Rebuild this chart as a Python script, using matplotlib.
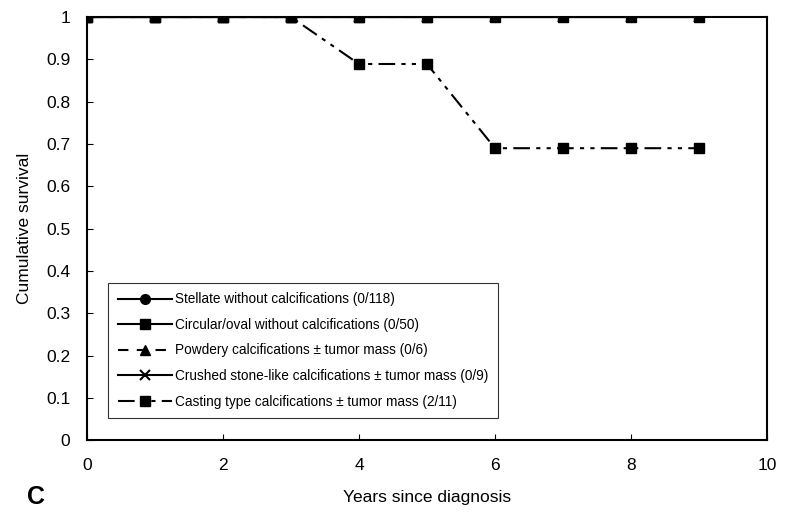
import numpy as np
import matplotlib.pyplot as plt

plt.rcParams['font.family'] = ['Liberation Sans', 'DejaVu Sans']

# años y supervivencia acumulada de cada grupo
years = [0, 1, 2, 3, 4, 5, 6, 7, 8, 9]
stellate = [1, 1, 1, 1, 1, 1, 1, 1, 1, 1]
circular = [1, 1, 1, 1, 1, 1, 1, 1, 1, 1]
powdery = [1, 1, 1, 1, 1, 1]
powdery_years = [0, 1, 2, 3, 4, 5]
crushed = [1, 1, 1, 1, 1, 1, 1, 1, 1, 1]
casting = [1, 1, 1, 1, 0.889, 0.889, 0.69, 0.69, 0.69, 0.69]

labels = [
    "Stellate without calcifications (0/118)",
    "Circular/oval without calcifications (0/50)",
    "Powdery calcifications \u00b1 tumor mass (0/6)",
    "Crushed stone-like calcifications \u00b1 tumor mass (0/9)",
    "Casting type calcifications \u00b1 tumor mass (2/11)",
]

fig = plt.figure(figsize=(7.9, 5.16), dpi=100)
ax = fig.add_axes([0.110, 0.147, 0.861, 0.820])

ax.plot(years, stellate, color="black", lw=1.5, marker="o", ms=7, label=labels[0])
ax.plot(powdery_years, powdery, color="black", lw=1.5, ls=(0, (5, 4)), marker="^", ms=7, label=labels[2])
ax.plot(years, crushed, color="black", lw=1.5, marker="x", ms=7, mew=1.5, label=labels[3])
ax.plot(years, circular, color="black", lw=1.5, marker="s", ms=7, label=labels[1])
ax.plot(years, casting, color="black", lw=1.5, ls=(0, (8, 3, 2, 3, 2, 3)), marker="s", ms=7, label=labels[4])

ax.set_xlim(0, 10)
ax.set_ylim(0, 1)
ax.set_xticks(np.arange(0, 11, 2))
ax.set_yticks(np.arange(0, 1.01, 0.1))
ax.set_yticklabels(["0", "0.1", "0.2", "0.3", "0.4", "0.5", "0.6", "0.7", "0.8", "0.9", "1"])
ax.tick_params(direction="in", length=4, width=0.8, labelsize=12.5)
ax.tick_params(axis="x", pad=13)
ax.tick_params(axis="y", pad=12)
for s in ax.spines.values():
    s.set_linewidth(1.5)

ax.set_xlabel("Years since diagnosis", fontsize=12.5, labelpad=12)
ax.set_ylabel("Cumulative survival", fontsize=12.5, labelpad=10)

handles, labs = ax.get_legend_handles_labels()
order = [0, 3, 1, 2, 4]
leg = ax.legend([handles[i] for i in order], [labs[i] for i in order],
                loc="lower left", bbox_to_anchor=(0.031, 0.052), fontsize=9.8,
                frameon=True, fancybox=False, edgecolor="black",
                handlelength=4.0, handletextpad=0.2, labelspacing=0.85,
                borderpad=0.7, borderaxespad=0)
leg.get_frame().set_linewidth(0.8)

fig.text(0.034, 0.024, "C", fontsize=18, fontweight="bold")

fig.savefig("out.png", dpi=100)
